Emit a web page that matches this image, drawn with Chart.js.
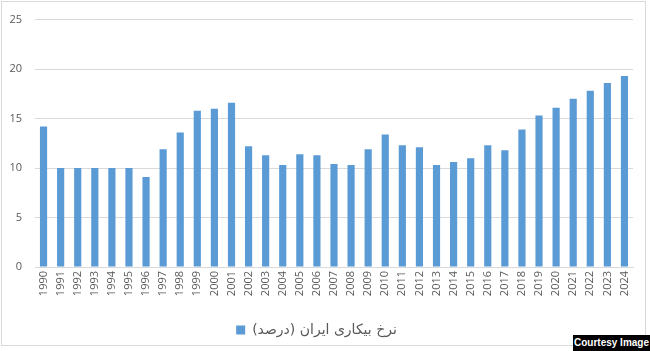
<!DOCTYPE html>
<html>
<head>
<meta charset="utf-8">
<script src="https://cdn.jsdelivr.net/npm/chart.js@4/dist/chart.umd.min.js"></script>
<style>
html,body{margin:0;padding:0;background:#fff;}
#wrap{position:relative;width:650px;height:351px;}
#frame{position:absolute;left:1px;top:1px;width:645px;height:345px;border:1px solid #d9d9d9;box-sizing:border-box;pointer-events:none;}
#credit{position:absolute;right:0;bottom:0;width:77px;height:16px;background:#000;color:#fff;font:bold 10px "Liberation Sans",Arial,sans-serif;line-height:16px;text-align:center;}
</style>
</head>
<body>
<div id="wrap">
<canvas id="c" width="650" height="351"></canvas>
<div id="frame"></div>
<div id="credit">Courtesy Image</div>
</div>
<script>
const years = ["1990","1991","1992","1993","1994","1995","1996","1997","1998","1999","2000","2001","2002","2003","2004","2005","2006","2007","2008","2009","2010","2011","2012","2013","2014","2015","2016","2017","2018","2019","2020","2021","2022","2023","2024"];
const unemploymentRate = [14.2,10.0,10.0,10.0,10.0,10.0,9.1,11.9,13.6,15.8,16.0,16.6,12.2,11.3,10.3,11.4,11.3,10.4,10.3,11.9,13.4,12.3,12.1,10.3,10.6,11.0,12.3,11.8,13.9,15.3,16.1,17.0,17.8,18.6,19.3];
const seriesLabel = "نرخ بیکاری ایران (درصد)";
const yTicks = [0,5,10,15,20,25];

new Chart(document.getElementById('c'), {
  type: 'bar',
  data: {
    labels: years,
    datasets: [{
      label: seriesLabel,
      data: unemploymentRate,
      backgroundColor: '#5B9BD5',
      borderWidth: 0,
      barPercentage: 0.42,
      categoryPercentage: 1.0
    }]
  },
  options: {
    responsive: false,
    animation: false,
    layout: { padding: { left: 0, right: 17, top: 9, bottom: 4 } },
    plugins: {
      legend: {
        position: 'bottom',
        textDirection: 'rtl',
        labels: {
          boxWidth: 9, boxHeight: 9, padding: 10,
          color: '#595959',
          font: { family: "'DejaVu Sans', sans-serif", size: 14 }
        }
      },
      tooltip: { enabled: false }
    },
    scales: {
      x: {
        grid: { display: false, drawTicks: false },
        border: { color: '#d9d9d9' },
        ticks: {
          minRotation: 90, maxRotation: 90, autoSkip: false, padding: 4,
          color: '#595959',
          font: { family: "'Open Sans', sans-serif", size: 11 }
        },
        afterFit: (s) => { s.height = 46; }
      },
      y: {
        min: 0, max: 25,
        afterBuildTicks: (s) => { s.ticks = yTicks.map(v => ({ value: v })); },
        grid: { color: '#d9d9d9', drawTicks: false },
        border: { display: false },
        ticks: {
          padding: 13,
          color: '#595959',
          font: { family: "'Open Sans', sans-serif", size: 11 }
        },
        afterFit: (s) => { s.width = 35; }
      }
    }
  }
});
</script>
</body>
</html>
